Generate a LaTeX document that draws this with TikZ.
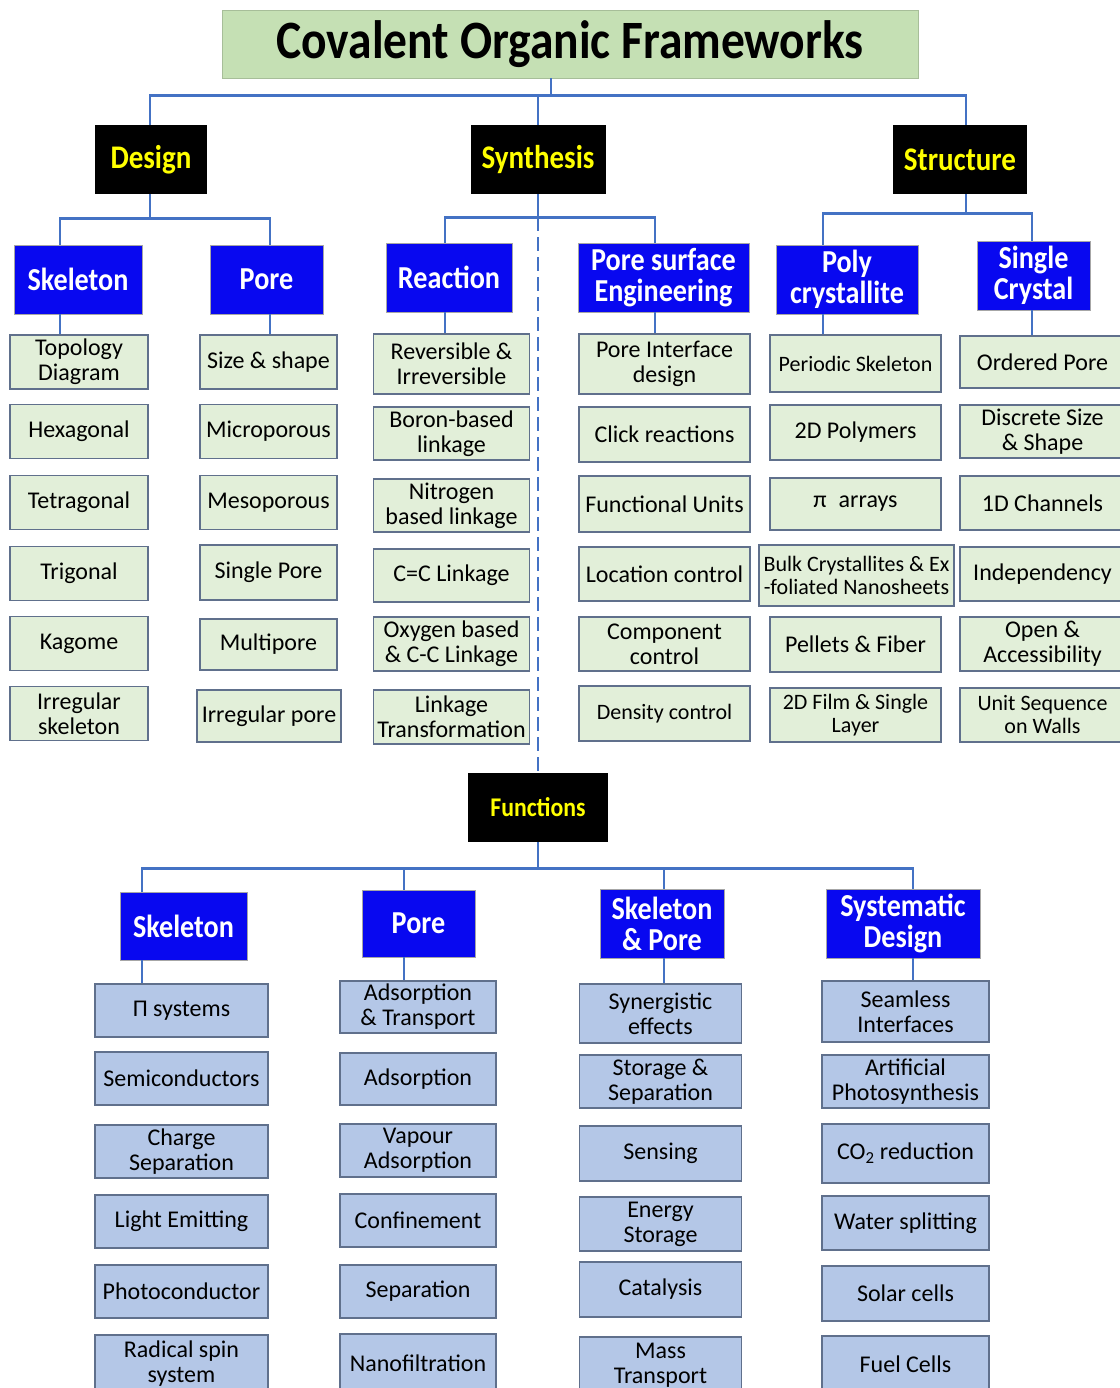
\documentclass[tikz,border=0pt]{standalone}
\usepackage{fontspec}
\setmainfont{Carlito}
\newfontfamily\headfont[FakeStretch=0.88]{Carlito}

\definecolor{busblue}{RGB}{68,114,196}
\definecolor{headblue}{RGB}{8,8,240}
\definecolor{titlegreen}{RGB}{197,224,180}
\definecolor{leafgreen}{RGB}{226,239,217}
\definecolor{leafblue}{RGB}{180,199,231}
\definecolor{leafedge}{RGB}{96,112,140}
\definecolor{headyellow}{RGB}{255,255,0}

\begin{document}
\begin{tikzpicture}
  [x=1pt, y=-1pt,
   bus/.style={draw=busblue, line width=2.8pt},
   blackbox/.style={fill=black, text=headyellow, inner sep=0pt, minimum height=69pt,
     font=\headfont\bfseries\fontsize{33}{35}\selectfont},
   bluebox/.style={fill=headblue, draw=black!35, line width=0.8pt, text=white, inner sep=0pt,
     align=center, minimum height=69pt, font=\headfont\bfseries\fontsize{32}{31}\selectfont},
   leaf/.style={draw=leafedge, line width=1.4pt, inner sep=0pt, align=center,
     minimum height=54pt, font=\fontsize{24}{25}\selectfont},
   gleaf/.style={leaf, fill=leafgreen},
   bleaf/.style={leaf, fill=leafblue},
   sm/.style={font=\fontsize{22}{23}\selectfont}]

  \useasboundingbox (0,0) rectangle (1119,1388);

  \node[fill=titlegreen, draw=titlegreen!85!black, line width=0.8pt, minimum width=696pt, minimum height=68pt,
        font=\headfont\bfseries\fontsize{54}{56}\selectfont] (cof) at (570,44) {Covalent Organic Frameworks};

  % first level
  \node[blackbox, minimum width=112pt] (design) at (151,159.5) {Design};
  \node[blackbox, minimum width=135pt] (synth) at (538,159.5) {Synthesis};
  \node[blackbox, minimum width=134pt] (struct) at (960,159.5) {Structure};
  \node[blackbox, minimum width=140pt, font=\headfont\bfseries\fontsize{27}{29}\selectfont] (func) at (538,807.5) {Functions};

  % second level
  \node[bluebox, minimum width=128pt] (dskel) at (78,279.5) {Skeleton};
  \node[bluebox, minimum width=113pt] (dpore) at (266.5,279.5) {Pore};
  \node[bluebox, minimum width=126pt] (sreact) at (449,277.5) {Reaction};
  \node[bluebox, minimum width=171pt] (spore) at (663.5,277.5) {Pore surface\\Engineering};
  \node[bluebox, minimum width=142pt] (tpoly) at (847,279.5) {Poly\\crystallite};
  \node[bluebox, minimum width=113pt] (tsingle) at (1033.5,275.5) {Single\\Crystal};

  \node[bluebox, minimum width=127pt, minimum height=68pt] (fskel) at (183.5,926) {Skeleton};
  \node[bluebox, minimum width=113pt, minimum height=67pt] (fpore) at (418.5,923.5) {Pore};
  \node[bluebox, minimum width=124pt] (fboth) at (662,923.5) {Skeleton\\\& Pore};
  \node[bluebox, minimum width=154pt] (fsys) at (903,923.5) {Systematic\\Design};

  % design leaves
  \node[gleaf, minimum width=138pt] (ds1) at (79,362) {Topology\\Diagram};
  \node[gleaf, minimum width=138pt] (ds2) at (79,431.5) {Hexagonal};
  \node[gleaf, minimum width=138pt] (ds3) at (79,502.5) {Tetragonal};
  \node[gleaf, minimum width=138pt] (ds4) at (79,573.5) {Trigonal};
  \node[gleaf, minimum width=138pt] (ds5) at (79,643.5) {Kagome};
  \node[gleaf, minimum width=138pt] (ds6) at (79,713.5) {Irregular\\skeleton};

  \node[gleaf, minimum width=137pt] (dp1) at (268.5,362) {Size \& shape};
  \node[gleaf, minimum width=137pt] (dp2) at (268.5,431.5) {Microporous};
  \node[gleaf, minimum width=137pt] (dp3) at (268.5,502.5) {Mesoporous};
  \node[gleaf, minimum width=137pt, minimum height=55pt] (dp4) at (268.5,572.5) {Single Pore};
  \node[gleaf, minimum width=137pt, minimum height=51pt] (dp5) at (268.5,644.5) {Multipore};
  \node[gleaf, minimum width=144pt, minimum height=52pt] (dp6) at (269,716) {Irregular pore};

  % synthesis leaves
  \node[gleaf, minimum width=156pt, minimum height=60pt] (sr1) at (451.5,364) {Reversible \&\\Irreversible};
  \node[gleaf, minimum width=156pt, minimum height=53pt] (sr2) at (451.5,433.5) {Boron-based\\linkage};
  \node[gleaf, minimum width=156pt, minimum height=53pt] (sr3) at (451.5,505.5) {Nitrogen\\based linkage};
  \node[gleaf, minimum width=156pt, minimum height=53pt] (sr4) at (451.5,575.5) {C=C Linkage};
  \node[gleaf, minimum width=156pt] (sr5) at (451.5,644) {Oxygen based\\\& C-C Linkage};
  \node[gleaf, minimum width=156pt] (sr6) at (451.5,717) {Linkage\\Transformation};

  \node[gleaf, minimum width=171pt, minimum height=60pt] (sp1) at (664.5,364) {Pore Interface\\design};
  \node[gleaf, minimum width=171pt, minimum height=55pt] (sp2) at (664.5,434.5) {Click reactions};
  \node[gleaf, minimum width=171pt, minimum height=56pt] (sp3) at (664.5,504) {Functional Units};
  \node[gleaf, minimum width=171pt] (sp4) at (664.5,574) {Location control};
  \node[gleaf, minimum width=171pt] (sp5) at (664.5,644) {Component\\control};
  \node[gleaf, sm, minimum width=171pt, minimum height=55pt] (sp6) at (664.5,713.5) {Density control};

  % structure leaves
  \node[gleaf, sm, minimum width=171pt, minimum height=57pt] (tp1) at (855.5,363.5) {Periodic Skeleton};
  \node[gleaf, minimum width=171pt, minimum height=55pt] (tp2) at (855.5,432.5) {2D Polymers};
  \node[gleaf, minimum width=171pt, minimum height=52pt] (tp3) at (855.5,504) {π\enspace arrays};
  \node[gleaf, sm, minimum width=195pt, minimum height=61pt] (tp4) at (856.5,575.5) {Bulk Crystallites \& Ex\\-foliated Nanosheets};
  \node[gleaf, minimum width=171pt, minimum height=55pt] (tp5) at (855.5,644.5) {Pellets \& Fiber};
  \node[gleaf, sm, minimum width=171pt] (tp6) at (855.5,715) {2D Film \& Single\\Layer};

  \node[gleaf, minimum width=165pt, minimum height=52pt] (ts1) at (1042.5,362) {Ordered Pore};
  \node[gleaf, minimum width=165pt, minimum height=53pt] (ts2) at (1042.5,431.5) {Discrete Size\\\& Shape};
  \node[gleaf, minimum width=165pt] (ts3) at (1042.5,503) {1D Channels};
  \node[gleaf, minimum width=165pt] (ts4) at (1042.5,574) {Independency};
  \node[gleaf, minimum width=165pt] (ts5) at (1042.5,644) {Open \&\\Accessibility};
  \node[gleaf, sm, minimum width=165pt] (ts6) at (1042.5,715) {Unit Sequence\\on Walls};

  % function leaves
  \node[bleaf, minimum width=173pt, minimum height=53pt] (fs1) at (181.5,1010.5) {Π systems};
  \node[bleaf, minimum width=173pt, minimum height=53pt] (fs2) at (181.5,1078.5) {Semiconductors};
  \node[bleaf, minimum width=173pt, minimum height=53pt] (fs3) at (181.5,1151.5) {Charge\\Separation};
  \node[bleaf, minimum width=173pt, minimum height=53pt] (fs4) at (181.5,1221.5) {Light Emitting};
  \node[bleaf, minimum width=173pt, minimum height=53pt] (fs5) at (181.5,1291.5) {Photoconductor};
  \node[bleaf, minimum width=173pt, minimum height=57pt] (fs6) at (181.5,1363.5) {Radical spin\\system};

  \node[bleaf, minimum width=156pt, minimum height=52pt] (fp1) at (418,1007) {Adsorption\\\& Transport};
  \node[bleaf, minimum width=156pt, minimum height=52pt] (fp2) at (418,1079) {Adsorption};
  \node[bleaf, minimum width=156pt, minimum height=53pt] (fp3) at (418,1150.5) {Vapour\\Adsorption};
  \node[bleaf, minimum width=156pt, minimum height=53pt] (fp4) at (418,1220.5) {Confinement};
  \node[bleaf, minimum width=156pt, minimum height=53pt] (fp5) at (418,1291.5) {Separation};
  \node[bleaf, minimum width=156pt, minimum height=58pt] (fp6) at (418,1363) {Nanofiltration};

  \node[bleaf, minimum width=162pt, minimum height=59pt] (fb1) at (660.5,1013.5) {Synergistic\\effects};
  \node[bleaf, minimum width=162pt, minimum height=53pt] (fb2) at (660.5,1081.5) {Storage \&\\Separation};
  \node[bleaf, minimum width=162pt, minimum height=55pt] (fb3) at (660.5,1153.5) {Sensing};
  \node[bleaf, minimum width=162pt] (fb4) at (660.5,1224) {Energy\\Storage};
  \node[bleaf, minimum width=162pt, minimum height=55pt] (fb5) at (660.5,1289.5) {Catalysis};
  \node[bleaf, minimum width=162pt, minimum height=56pt] (fb6) at (660.5,1365) {Mass\\Transport};

  \node[bleaf, minimum width=167pt, minimum height=61pt] (fy1) at (905.5,1011.5) {Seamless\\Interfaces};
  \node[bleaf, minimum width=167pt, minimum height=53pt] (fy2) at (905.5,1081.5) {Artificial\\Photosynthesis};
  \node[bleaf, minimum width=167pt, minimum height=59pt] (fy3) at (905.5,1153.5) {CO\textsubscript{2} reduction};
  \node[bleaf, minimum width=167pt] (fy4) at (905.5,1223) {Water splitting};
  \node[bleaf, minimum width=167pt, minimum height=55pt] (fy5) at (905.5,1293.5) {Solar cells};
  \node[bleaf, minimum width=167pt, minimum height=57pt] (fy6) at (905.5,1364.5) {Fuel Cells};

  % connectors
  \foreach \to/\dx in {design/-1, synth/0, struct/6}
    \draw[bus] ([xshift=-19pt]cof.south) -- ++(0,17) -| ([xshift=\dx pt]\to.north);
  \foreach \to/\dx in {dskel/-18, dpore/3.5}
    \draw[bus] ([xshift=-1pt]design.south) -- ++(0,24) -| ([xshift=\dx pt]\to.north);
  \foreach \to/\dx in {sreact/-4, spore/-8.5}
    \draw[bus] (synth.south) -- ++(0,23) -| ([xshift=\dx pt]\to.north);
  \foreach \to/\dx in {tpoly/-24, tsingle/-1.5}
    \draw[bus] ([xshift=6pt]struct.south) -- ++(0,19) -| ([xshift=\dx pt]\to.north);
  \foreach \to/\dx in {fskel/-41.5, fpore/-14.5, fboth/2, fsys/10}
    \draw[bus] (func.south) -- ++(0,26) -| ([xshift=\dx pt]\to.north);

  \draw[bus, dash pattern=on 14pt off 6pt] (synth.south) ++(0,23) -- (func.north);

  \foreach \from/\to/\da/\db in {dskel/ds1/-18/-19, dpore/dp1/3.5/1.5, sreact/sr1/-4/-6.5,
      spore/sp1/-8.5/-9.5, tpoly/tp1/-24/-32.5, tsingle/ts1/-1.5/-10.5,
      fskel/fs1/-41.5/-39.5, fpore/fp1/-14.5/-14, fboth/fb1/2/3.5, fsys/fy1/10/7.5}
    \draw[bus] ([xshift=\da pt]\from.south) -- ([xshift=\db pt]\to.north);
\end{tikzpicture}
\end{document}
